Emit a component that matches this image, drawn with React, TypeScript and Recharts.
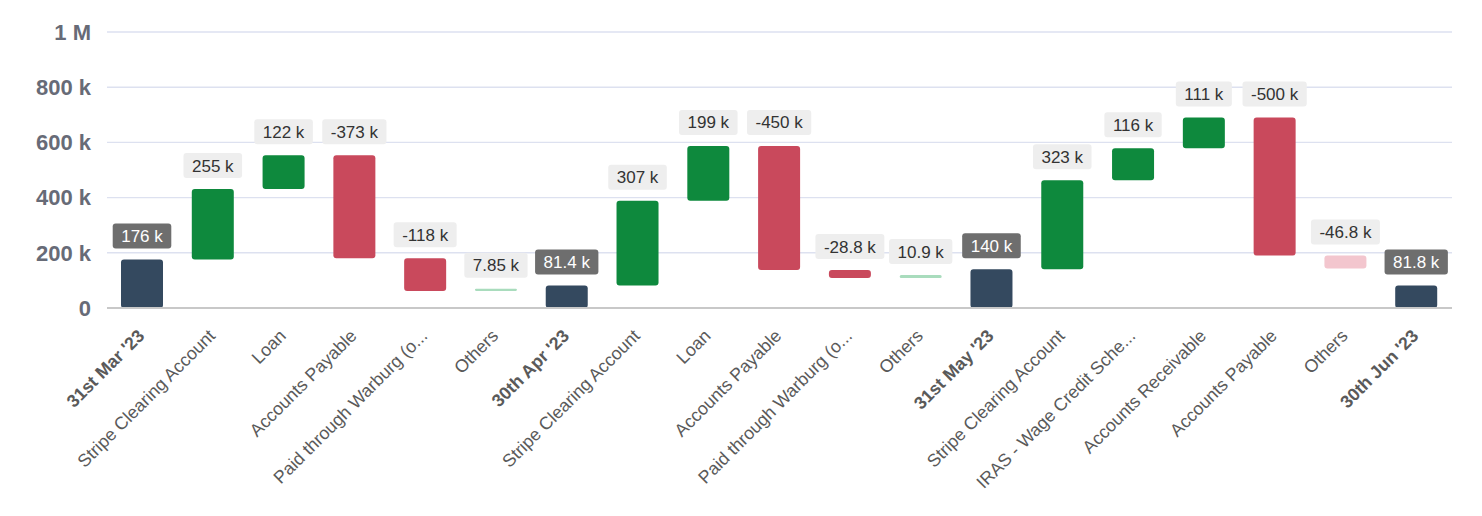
import { BarChart, Bar, XAxis, YAxis, CartesianGrid, Cell, LabelList } from "recharts"

type Kind = "total" | "delta" | "other"

const categories = [
  "31st Mar '23",
  "Stripe Clearing Account",
  "Loan",
  "Accounts Payable",
  "Paid through Warburg (o...",
  "Others",
  "30th Apr '23",
  "Stripe Clearing Account",
  "Loan",
  "Accounts Payable",
  "Paid through Warburg (o...",
  "Others",
  "31st May '23",
  "Stripe Clearing Account",
  "IRAS - Wage Credit Sche...",
  "Accounts Receivable",
  "Accounts Payable",
  "Others",
  "30th Jun '23",
]

const amounts = [
  176000, 255000, 122000, -373000, -118000, 7850,
  81400, 307000, 199000, -450000, -28800, 10900,
  140000, 323000, 116000, 111000, -500000, -46800,
  81800,
]

const kinds: Kind[] = [
  "total", "delta", "delta", "delta", "delta", "other",
  "total", "delta", "delta", "delta", "delta", "other",
  "total", "delta", "delta", "delta", "delta", "other",
  "total",
]

const yTicks = [0, 200000, 400000, 600000, 800000, 1000000]

const FONT = '"Liberation Sans", Arial, Helvetica, sans-serif'

// running totals -> [low, high] ranges for the waterfall
let running = 0
const rows = categories.map((name, i) => {
  const v = amounts[i]
  const kind = kinds[i]
  let low = 0
  let high = v
  if (kind === "total") {
    running = v
  } else {
    const next = running + v
    low = Math.min(running, next)
    high = Math.max(running, next)
    running = next
  }
  return { name, range: [low, high], amount: v, kind }
})

function barColor(kind: Kind, v: number) {
  if (kind === "total") return "#34495f"
  if (kind === "other") return v >= 0 ? "#a9dcbd" : "#f3c6ce"
  return v >= 0 ? "#0e893d" : "#c9495c"
}

function fmtAxis(v: number) {
  if (v === 0) return "0"
  if (v >= 1000000) return `${v / 1000000} M`
  return `${v / 1000} k`
}

function fmtValue(v: number) {
  return `${Number((v / 1000).toPrecision(3))} k`
}

let measureCtx: CanvasRenderingContext2D | null = null
function textWidth(s: string) {
  if (!measureCtx) {
    measureCtx = document.createElement("canvas").getContext("2d")
  }
  if (measureCtx) {
    measureCtx.font = `17px ${FONT}`
    return measureCtx.measureText(s).width
  }
  return s.length * 8.6
}

function ValueBadge(props: any) {
  const { x, y, width, height, index } = props
  const row = rows[index]
  if (!row) return null
  const top = Math.min(Number(y), Number(y) + Number(height))
  const text = fmtValue(row.amount)
  const w = textWidth(text) + 17
  const h = 25
  const cx = Number(x) + Number(width) / 2
  const isTotal = row.kind === "total"
  return (
    <g>
      <rect x={cx - w / 2} y={top - 11 - h} width={w} height={h} rx={3} fill={isTotal ? "#6e6e6e" : "#eeeeee"} />
      <text
        x={cx}
        y={top - 11 - h / 2}
        dy="0.36em"
        textAnchor="middle"
        fontSize={17}
        fontFamily={FONT}
        fill={isTotal ? "#ffffff" : "#333333"}
      >
        {text}
      </text>
    </g>
  )
}

function CategoryTick(props: any) {
  const { x, y, payload } = props
  const idx = payload?.index ?? 0
  const bold = kinds[idx] === "total"
  const px = x + 3
  const py = y + 21
  return (
    <text
      x={px}
      y={py}
      textAnchor="end"
      transform={`rotate(-45, ${px}, ${py})`}
      fontSize={17.8}
      fontFamily={FONT}
      fontWeight={bold ? 700 : 400}
      fill="#5a5a5a"
    >
      {payload.value}
    </text>
  )
}

export default function App() {
  return (
    <div style={{ width: 1474, height: 508 }}>
      <BarChart
        width={1474}
        height={508}
        data={rows}
        margin={{ top: 24, right: 30, bottom: 8, left: 0 }}
      >
        <CartesianGrid vertical={false} stroke="#dde1f0" strokeWidth={1.4} />
        <XAxis
          dataKey="name"
          interval={0}
          height={200}
          tickLine={false}
          axisLine={{ stroke: "#c8c8c8", strokeWidth: 2 }}
          tick={<CategoryTick />}
        />
        <YAxis
          type="number"
          domain={[0, 1000000]}
          ticks={yTicks}
          width={99}
          axisLine={false}
          tickLine={false}
          tickMargin={10}
          tickFormatter={fmtAxis}
          tick={{ fill: "#676b77", fontSize: 22, fontWeight: 700, fontFamily: FONT }}
        />
        <Bar dataKey="range" barSize={42} radius={3} isAnimationActive={false}>
          {rows.map((r, i) => (
            <Cell key={i} fill={barColor(r.kind, r.amount)} />
          ))}
          <LabelList dataKey="amount" content={<ValueBadge />} />
        </Bar>
      </BarChart>
    </div>
  )
}
